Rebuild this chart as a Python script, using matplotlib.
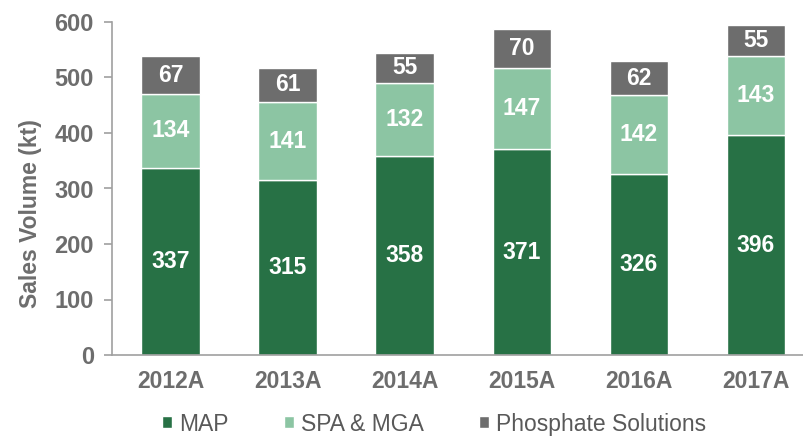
import matplotlib.pyplot as plt
import numpy as np

years = ['2012A', '2013A', '2014A', '2015A', '2016A', '2017A']
map_vals = [337, 315, 358, 371, 326, 396]
spa_vals = [134, 141, 132, 147, 142, 143]
phos_vals = [67, 61, 55, 70, 62, 55]

c_map = '#277145'
c_spa = '#8cc5a3'
c_phos = '#6d6d6d'
grey = '#6d6d6d'

plt.rcParams['font.family'] = ['Liberation Sans', 'DejaVu Sans']

fig = plt.figure(figsize=(8.04, 4.36), dpi=100)
ax = fig.add_axes([112/804, (436-355)/436, (804-112)/804, 333/436])

x = np.arange(len(years))
w = 0.5
b1 = ax.bar(x, map_vals, w, color=c_map, edgecolor='white', linewidth=1, label='MAP')
b2 = ax.bar(x, spa_vals, w, bottom=map_vals, color=c_spa, edgecolor='white', linewidth=1, label='SPA & MGA')
bot2 = np.array(map_vals) + np.array(spa_vals)
b3 = ax.bar(x, phos_vals, w, bottom=bot2, color=c_phos, edgecolor='white', linewidth=1, label='Phosphate Solutions')

for bars in (b1, b2, b3):
    ax.bar_label(bars, label_type='center', color='white', fontsize=16.5, fontweight='bold')

ax.set_ylim(0, 600)
ax.set_yticks(range(0, 601, 100))
ax.set_xlim(-0.5, (804-171)/117)
ax.set_xticks(x)
ax.set_xticklabels(years)

for s in ['top', 'right']:
    ax.spines[s].set_visible(False)
ax.spines['left'].set_color('#a0a0a0')
ax.spines['bottom'].set_color('#a0a0a0')
ax.spines['left'].set_linewidth(1.2)
ax.spines['bottom'].set_linewidth(1.2)
ax.tick_params(axis='y', colors='#a0a0a0', length=6, width=1.2, labelcolor=grey, labelsize=17, pad=7)
ax.tick_params(axis='x', length=0, labelcolor=grey, labelsize=16.5, pad=11)
for lbl in ax.get_xticklabels() + ax.get_yticklabels():
    lbl.set_fontweight('bold')

ax.set_ylabel('Sales Volume (kt)', color=grey, fontsize=16.5, fontweight='bold')
ax.yaxis.set_label_coords((42-112)/692, (355-214)/333)

fig.legend(handles=[b1, b2, b3], loc='center', bbox_to_anchor=(434/804, 1-424/436), ncol=3,
           frameon=False, fontsize=16.5, labelcolor='#595959', handlelength=0.45, handleheight=0.45,
           handletextpad=0.3, columnspacing=2.4)

fig.savefig('out.png', dpi=100)
